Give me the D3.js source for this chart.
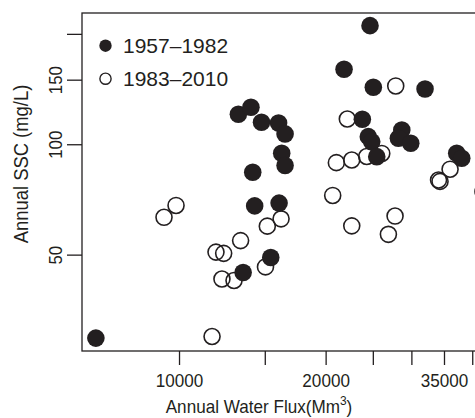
<!DOCTYPE html>
<html lang="en">

<head>
    <meta charset="UTF-8">
    <title>SSC vs water flux</title>
    <style>
        body {
            margin: 0;
            background: #fff;
        }

        .domain {
            display: none;
        }

        .axis text {
            font-family: "Liberation Sans", Arial, sans-serif;
            font-size: 18.6px;
            fill: #231f20;
        }

        .axis line {
            stroke: #231f20;
            stroke-width: 1.3;
        }
    </style>
</head>

<body>
    <svg width="475" height="418" id="svg"></svg>
    <script src="https://d3js.org/d3.v7.min.js"></script>
    <script>
        // 1957-1982 (filled)
        const flux1 = [6750, 13240, 14050, 14770, 16010, 16510, 16250, 16510, 14170, 14300, 16050, 15430, 13540,
            24670, 21820, 25060, 32000, 23790, 24470, 24870, 25470, 28670, 28210, 29910, 37170, 38060]
        const ssc1 = [29.6, 120.7, 126.1, 114.8, 114.3, 106.7, 94.5, 87.5, 83.9, 67.9, 69.1, 49.1, 44.7,
            210.6, 160.1, 143.0, 141.5, 117.0, 104.9, 101.6, 92.5, 109.4, 103.8, 100.6, 94.5, 91.6]

        // 1983-2010 (open)
        const flux2 = [9315, 9860, 11690, 11910, 12350, 12250, 12970, 13380, 15050, 15180, 16200, 20680, 21040,
            22630, 24290, 26080, 22160, 27860, 22630, 27770, 26910, 36020, 34110, 34350, 42090]
        const ssc2 = [63.2, 68.1, 29.9, 50.8, 50.4, 42.9, 42.5, 54.6, 46.3, 59.8, 62.6, 72.5, 89.1,
            90.6, 92.6, 94.4, 117.2, 144.2, 59.9, 63.7, 56.8, 85.5, 79.9, 79.2, 74.3]

        const legendLabels = ["1957\u20131982", "1983\u20132010"]
        const xTicks = [10000, 15000, 20000, 25000, 30000, 35000, 40000]
        const xTickLabels = [10000, 20000, 35000]
        const yTicks = [50, 100, 150, 200]
        const yTickLabels = [50, 100, 150]

        const ink = "#231f20"
        const font = '"Liberation Sans", Arial, sans-serif'
        const svg = d3.select("svg#svg")

        const plot = { left: 82, top: 13, right: 500, bottom: 351 }

        const xScale = d3.scaleLog().domain([6321, 45610]).range([plot.left, plot.right])
        const yScale = d3.scaleLog().domain([27.3, 228]).range([plot.bottom, plot.top])

        // axes (label text is a bit narrower than Arial in the original)
        const xAxis = svg.append("g").attr("class", "axis")
            .attr("transform", `translate(0, ${plot.bottom})`)
            .call(d3.axisBottom(xScale).tickValues(xTicks).tickSize(14).tickPadding(8.5)
                .tickFormat(d => xTickLabels.includes(d) ? d : ""))
        xAxis.selectAll(".tick text").attr("transform", "scale(0.92,1)")

        const yAxis = svg.append("g").attr("class", "axis")
            .attr("transform", `translate(${plot.left}, 0)`)
            .call(d3.axisLeft(yScale).tickValues(yTicks).tickSize(15)
                .tickFormat(d => yTickLabels.includes(d) ? d : ""))
        yAxis.selectAll(".tick text")
            .attr("x", 0).attr("y", -20.5).attr("dy", 0)
            .attr("text-anchor", "middle")
            .attr("transform", "rotate(-90) scale(0.9,1)")

        // frame
        svg.append("rect")
            .attr("x", plot.left).attr("y", plot.top)
            .attr("width", plot.right - plot.left).attr("height", plot.bottom - plot.top)
            .attr("fill", "none").attr("stroke", ink).attr("stroke-width", 1.3)

        // points
        const pts2 = flux2.map((f, i) => ({ f: f, s: ssc2[i] }))
        const pts1 = flux1.map((f, i) => ({ f: f, s: ssc1[i] }))

        svg.append("g").selectAll("circle").data(pts2).join("circle")
            .attr("cx", d => xScale(d.f)).attr("cy", d => yScale(d.s))
            .attr("r", 8).attr("fill", "none").attr("stroke", ink).attr("stroke-width", 1.6)

        svg.append("g").selectAll("circle").data(pts1).join("circle")
            .attr("cx", d => xScale(d.f)).attr("cy", d => yScale(d.s))
            .attr("r", 8.8).attr("fill", ink)

        // axis titles
        const title = svg.append("text")
            .attr("transform", "translate(259, 412.5) scale(0.92,1)")
            .attr("text-anchor", "middle")
            .style("font-family", font)
            .style("font-size", "18.6px").attr("fill", ink)
        title.append("tspan").text("Annual Water Flux(Mm")
        title.append("tspan").attr("dy", -7.5).style("font-size", "13px").text("3")
        title.append("tspan").attr("dy", 7.5).text(")")

        svg.append("text")
            .attr("transform", "translate(28, 164) rotate(-90) scale(0.95,1)")
            .attr("text-anchor", "middle")
            .style("font-family", font)
            .style("font-size", "19.4px").attr("fill", ink)
            .text("Annual SSC (mg/L)")

        // legend
        const legend = svg.append("g")
        legendLabels.forEach((lab, i) => {
            const cy = 45.7 + i * 33
            legend.append("circle")
                .attr("cx", 105.5).attr("cy", cy).attr("r", i == 0 ? 6.2 : 5.6)
                .attr("fill", i == 0 ? ink : "none")
                .attr("stroke", ink).attr("stroke-width", i == 0 ? 0 : 1.4)
            legend.append("text")
                .attr("x", 123).attr("y", cy + 7.5)
                .style("font-family", font)
                .style("font-size", "21px").attr("fill", ink)
                .text(lab)
        })
    </script>
</body>

</html>
